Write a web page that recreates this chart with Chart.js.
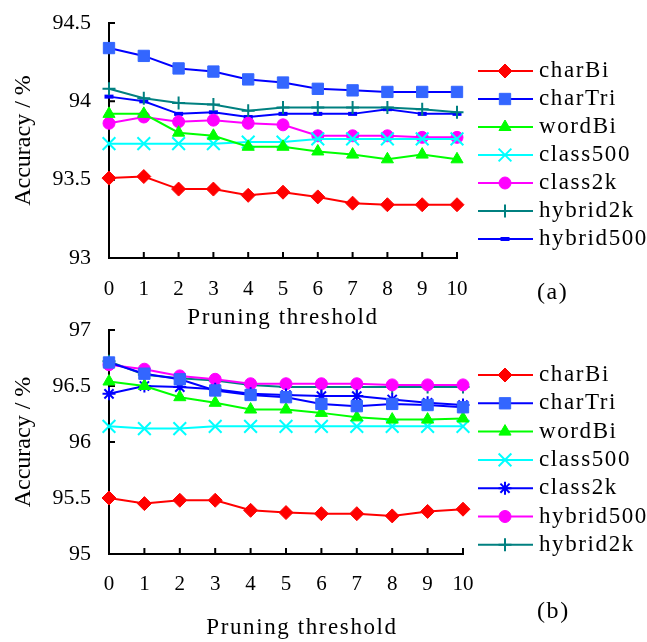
<!DOCTYPE html>
<html>
<head>
<meta charset="utf-8">
<script src="https://cdn.jsdelivr.net/npm/chart.js@4.4.1/dist/chart.umd.min.js"></script>
<style>
  html, body { margin: 0; background: #fff; }
  canvas { position: absolute; left: 0; }
  #chartA { top: 0; }
  #chartB { top: 312px; }
</style>
</head>
<body>
<canvas id="chartA" width="647" height="330"></canvas>
<canvas id="chartB" width="647" height="330"></canvas>
<script>
const thresholds = ['0', '1', '2', '3', '4', '5', '6', '7', '8', '9', '10'];

// panel (a)
const namesA = ['charBi', 'charTri', 'wordBi', 'class500', 'class2k', 'hybrid2k', 'hybrid500'];
const charBiA    = [93.51, 93.52, 93.44, 93.44, 93.40, 93.42, 93.39, 93.35, 93.34, 93.34, 93.34];
const charTriA   = [94.34, 94.29, 94.21, 94.19, 94.14, 94.12, 94.08, 94.07, 94.06, 94.06, 94.06];
const wordBiA    = [93.92, 93.92, 93.80, 93.78, 93.71, 93.71, 93.68, 93.66, 93.63, 93.66, 93.63];
const class500A  = [93.73, 93.73, 93.73, 93.73, 93.74, 93.74, 93.76, 93.76, 93.76, 93.76, 93.76];
const class2kA   = [93.86, 93.90, 93.87, 93.88, 93.86, 93.85, 93.78, 93.78, 93.78, 93.77, 93.77];
const hybrid2kA  = [94.08, 94.02, 93.99, 93.98, 93.94, 93.96, 93.96, 93.96, 93.96, 93.95, 93.93];
const hybrid500A = [94.03, 94.00, 93.92, 93.93, 93.90, 93.92, 93.92, 93.92, 93.95, 93.92, 93.92];

// panel (b)
const namesB = ['charBi', 'charTri', 'wordBi', 'class500', 'class2k', 'hybrid500', 'hybrid2k'];
const charBiB    = [95.50, 95.45, 95.48, 95.48, 95.39, 95.37, 95.36, 95.36, 95.34, 95.38, 95.40];
const charTriB   = [96.71, 96.61, 96.56, 96.46, 96.42, 96.40, 96.34, 96.32, 96.34, 96.33, 96.31];
const wordBiB    = [96.54, 96.50, 96.40, 96.35, 96.29, 96.29, 96.26, 96.22, 96.20, 96.20, 96.21];
const class500B  = [96.14, 96.12, 96.12, 96.14, 96.14, 96.14, 96.14, 96.14, 96.14, 96.14, 96.14];
const class2kB   = [96.43, 96.50, 96.49, 96.47, 96.43, 96.42, 96.41, 96.41, 96.38, 96.35, 96.33];
const hybrid500B = [96.69, 96.65, 96.59, 96.56, 96.52, 96.52, 96.52, 96.52, 96.51, 96.51, 96.51];
const hybrid2kB  = [96.72, 96.60, 96.57, 96.55, 96.51, 96.49, 96.49, 96.49, 96.49, 96.49, 96.49];

const SERIF = '"Liberation Serif", "Times New Roman", Times, serif';

// line colour, marker fill, marker shape
const looks = {
  redDiamond:    { line: '#ff0000', fill: '#ff0000', pointStyle: 'rectRot',  radius: 7,   width: 1 },
  blueSquare:    { line: '#0000ff', fill: '#3366ff', pointStyle: 'rect',     radius: 8,   width: 1 },
  greenTriangle: { line: '#00ff00', fill: '#00ff00', pointStyle: 'triangle', radius: 7,   width: 1 },
  cyanCross:     { line: '#00ffff', fill: '#00ffff', pointStyle: 'crossRot', radius: 9,   width: 2 },
  magentaDot:    { line: '#ff00ff', fill: '#ff00ff', pointStyle: 'circle',   radius: 6,   width: 1 },
  tealPlus:      { line: '#008080', fill: '#008080', pointStyle: 'cross',    radius: 6.5, width: 2 },
  blueDash:      { line: '#0000ff', fill: '#0000ff', pointStyle: 'line',     radius: 4.5, width: 4 },
  blueStar:      { line: '#0000ff', fill: '#0000ff', pointStyle: 'star',     radius: 6.5, width: 2 },
};

function makeDatasets(names, values, lookKeys) {
  return names.map((name, i) => {
    const look = looks[lookKeys[i]];
    return {
      label: name,
      data: values[i],
      borderColor: look.line,
      backgroundColor: look.fill,
      borderWidth: 2,
      pointStyle: look.pointStyle,
      pointRadius: look.radius,
      pointBackgroundColor: look.fill,
      pointBorderColor: look.fill,
      pointBorderWidth: look.width,
      tension: 0,
      clip: false,
    };
  });
}

// inward ticks, side legend, x caption and panel tag
const paperFrame = {
  id: 'paperFrame',
  beforeDatasetsDraw(chart) {
    const { ctx, chartArea: ca, scales: { x, y } } = chart;
    ctx.save();
    ctx.strokeStyle = '#000';
    ctx.lineWidth = 2;
    ctx.beginPath();
    x.ticks.forEach((t, i) => {
      const px = x.getPixelForTick(i);
      ctx.moveTo(px, ca.bottom);
      ctx.lineTo(px, ca.bottom - 6);
    });
    y.ticks.forEach((t, i) => {
      const py = y.getPixelForTick(i);
      ctx.moveTo(ca.left, py);
      ctx.lineTo(ca.left + 6, py);
    });
    ctx.stroke();
    ctx.restore();
  },
  afterDraw(chart, args, opts) {
    const { ctx } = chart;
    ctx.save();
    ctx.letterSpacing = '1.6px';
    ctx.textBaseline = 'middle';
    chart.data.datasets.forEach((ds, i) => {
      const ly = opts.legendTop + i * opts.legendStep;
      ctx.strokeStyle = ds.borderColor;
      ctx.lineWidth = 2;
      ctx.beginPath();
      ctx.moveTo(478, ly);
      ctx.lineTo(533, ly);
      ctx.stroke();
      ctx.fillStyle = ds.pointBackgroundColor;
      ctx.strokeStyle = ds.pointBorderColor;
      ctx.lineWidth = ds.pointBorderWidth;
      Chart.helpers.drawPoint(ctx, {
        pointStyle: ds.pointStyle, rotation: 0,
        radius: ds.pointRadius, borderWidth: ds.pointBorderWidth
      }, 505, ly);
      ctx.fillStyle = '#000';
      ctx.font = `23px ${SERIF}`;
      ctx.textAlign = 'left';
      ctx.fillText(ds.label, 539, ly);
    });
    ctx.fillStyle = '#000';
    ctx.font = `23px ${SERIF}`;
    ctx.textAlign = 'center';
    ctx.fillText('Pruning threshold', opts.captionX, opts.captionY);
    ctx.font = `24px ${SERIF}`;
    ctx.textAlign = 'left';
    ctx.fillText(opts.tag, 537, opts.tagY);
    ctx.restore();
  }
};

function makeChart(canvasId, datasets, yMin, yMax, frame) {
  return new Chart(document.getElementById(canvasId), {
    type: 'line',
    data: { labels: thresholds, datasets },
    plugins: [paperFrame],
    options: {
      responsive: false,
      animation: false,
      layout: { padding: { top: frame.top, right: frame.right, left: 0, bottom: 0 } },
      plugins: {
        legend: { display: false },
        tooltip: { enabled: false },
        paperFrame: frame.deco,
      },
      scales: {
        x: {
          type: 'category',
          offset: false,
          grid: { display: false, drawTicks: false },
          border: { display: true, color: '#000', width: 2 },
          ticks: {
            color: '#000', font: { family: SERIF, size: 21 },
            padding: frame.xPad, autoSkip: false, maxRotation: 0
          },
          afterFit: (s) => { s.height = frame.xHeight; s.paddingLeft = 0; s.paddingRight = 0; },
        },
        y: {
          min: yMin,
          max: yMax,
          grid: { display: false, drawTicks: false },
          border: { display: true, color: '#000', width: 2 },
          ticks: {
            stepSize: 0.5, color: '#000', font: { family: SERIF, size: 22 }, padding: 18,
            callback: (v) => String(Number(v.toFixed(1)))
          },
          title: {
            display: true, text: 'Accuracy / %', color: '#000',
            font: { family: SERIF, size: 24 }, padding: { top: 9, bottom: 0 }
          },
          afterFit: (s) => { s.width = 109; s.paddingTop = 0; s.paddingBottom = 0; },
        },
      },
    },
  });
}

makeChart('chartA',
  makeDatasets(namesA,
    [charBiA, charTriA, wordBiA, class500A, class2kA, hybrid2kA, hybrid500A],
    ['redDiamond', 'blueSquare', 'greenTriangle', 'cyanCross', 'magentaDot', 'tealPlus', 'blueDash']),
  93, 94.5,
  { top: 23, right: 190, xHeight: 72, xPad: 19,
    deco: { legendTop: 71, legendStep: 28, captionX: 283, captionY: 318, tag: '(a)', tagY: 293 } });

makeChart('chartB',
  makeDatasets(namesB,
    [charBiB, charTriB, wordBiB, class500B, class2kB, hybrid500B, hybrid2kB],
    ['redDiamond', 'blueSquare', 'greenTriangle', 'cyanCross', 'blueStar', 'magentaDot', 'tealPlus']),
  95, 97,
  { top: 18, right: 184, xHeight: 88, xPad: 18,
    deco: { legendTop: 63, legendStep: 28.3, captionX: 302, captionY: 316, tag: '(b)', tagY: 300 } });
</script>
</body>
</html>
